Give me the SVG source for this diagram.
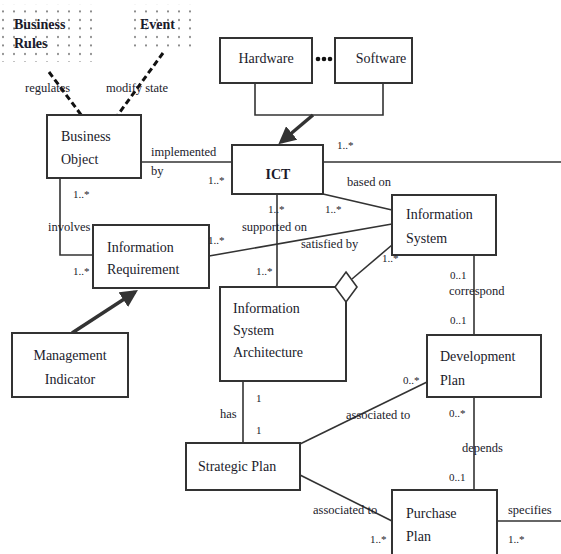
<svg xmlns="http://www.w3.org/2000/svg" width="561" height="554" viewBox="0 0 561 554" font-family="'Liberation Serif', 'Times New Roman', serif">
  <style>
    .box { fill: #fff; stroke: #333; stroke-width: 2; }
    text { font-family: "Liberation Serif", "Times New Roman", serif; fill: #1b1b2b; }
    .t { font-size: 14px; }
    .b { font-weight: bold; }
    .lbl { font-size: 12.5px; }
    .m { font-size: 11px; }
    .ln { fill: none; stroke: #333; stroke-width: 1.6; }
    .thick { fill: none; stroke: #333; stroke-width: 3.5; }
    .dash { fill: none; stroke: #111; stroke-width: 3; stroke-dasharray: 6 3.5; }
  </style>
  <defs>
    <pattern id="dots" width="11" height="8.5" patternUnits="userSpaceOnUse">
      <circle cx="3" cy="3" r="1" fill="#777"/>
    </pattern>
    <marker id="arrow" markerWidth="5" markerHeight="5" refX="4" refY="2.5" orient="auto" markerUnits="strokeWidth">
      <path d="M0,0 L5,2.5 L0,5 Z" fill="#333"/>
    </marker>
  </defs>

  <g id="connectors">
    <!-- stereotype dashed links -->
    <line class="dash" x1="49" y1="72" x2="82" y2="116"/>
    <line class="dash" x1="163" y1="53" x2="117" y2="116"/>
    <!-- hardware / software bracket into ICT -->
    <polyline class="ln" points="255,83 255,115 383,115 383,83"/>
    <line class="thick" x1="313" y1="115" x2="281" y2="142" marker-end="url(#arrow)"/>
    <!-- management indicator into information requirement -->
    <line class="thick" x1="72" y1="333" x2="135" y2="292" marker-end="url(#arrow)"/>
    <!-- business object - ICT -->
    <line class="ln" x1="141" y1="162" x2="232" y2="162"/>
    <!-- ICT to right edge -->
    <line class="ln" x1="323" y1="162" x2="561" y2="162"/>
    <!-- ICT - information system -->
    <line class="ln" x1="323" y1="194" x2="392" y2="210"/>
    <!-- information requirement - information system -->
    <line class="ln" x1="209" y1="256" x2="392" y2="224"/>
    <!-- ICT - ISA -->
    <line class="ln" x1="277" y1="194" x2="277" y2="287"/>
    <!-- aggregation ISA - IS -->
    <line class="ln" x1="352" y1="279" x2="392" y2="245"/>
    <!-- business object - information requirement -->
    <polyline class="ln" points="60,178 60,255 93,255"/>
    <!-- ISA - strategic plan -->
    <line class="ln" x1="243" y1="381" x2="243" y2="444"/>
    <!-- IS - development plan -->
    <line class="ln" x1="474" y1="255" x2="474" y2="335"/>
    <!-- strategic plan - development plan -->
    <line class="ln" x1="300" y1="444" x2="427" y2="382"/>
    <!-- development plan - purchase plan -->
    <line class="ln" x1="474" y1="397" x2="474" y2="490"/>
    <!-- strategic plan - purchase plan -->
    <line class="ln" x1="300" y1="475" x2="392" y2="521"/>
    <!-- purchase plan to right edge -->
    <line class="ln" x1="497" y1="521" x2="561" y2="521"/>
  </g>

  <g id="business-rules">
    <rect x="2" y="4" width="94" height="58" fill="url(#dots)"/>
    <text class="t b" x="14" y="29" font-size="13">Business</text>
    <text class="t b" x="14" y="48" font-size="13">Rules</text>
  </g>
  <g id="event">
    <rect x="128" y="4" width="68" height="48" fill="url(#dots)"/>
    <text class="t b" x="140" y="29" font-size="13">Event</text>
  </g>

  <g id="business-object">
    <rect class="box" x="47" y="115" width="94" height="63"/>
    <text class="t" x="61" y="141">Business</text>
    <text class="t" x="61" y="164">Object</text>
  </g>
  <g id="hardware">
    <rect class="box" x="220" y="38" width="92" height="45"/>
    <text class="t" x="266" y="63" text-anchor="middle" font-size="13">Hardware</text>
  </g>
  <g id="ellipsis">
    <circle cx="318" cy="59" r="2.3" fill="#111"/>
    <circle cx="324" cy="59" r="2.3" fill="#111"/>
    <circle cx="330" cy="59" r="2.3" fill="#111"/>
  </g>
  <g id="software">
    <rect class="box" x="335" y="38" width="77" height="45"/>
    <text class="t" x="381" y="63" text-anchor="middle" font-size="13">Software</text>
  </g>
  <g id="ict">
    <rect class="box" x="232" y="145" width="91" height="49"/>
    <text class="t b" x="278" y="179" text-anchor="middle" font-size="22">ICT</text>
  </g>
  <g id="information-system">
    <rect class="box" x="392" y="195" width="104" height="60"/>
    <text class="t" x="406" y="219">Information</text>
    <text class="t" x="406" y="243">System</text>
  </g>
  <g id="information-requirement">
    <rect class="box" x="93" y="225" width="116" height="63"/>
    <text class="t" x="107" y="252">Information</text>
    <text class="t" x="107" y="274">Requirement</text>
  </g>
  <g id="management-indicator">
    <rect class="box" x="12" y="333" width="116" height="64"/>
    <text class="t" x="70" y="360" text-anchor="middle">Management</text>
    <text class="t" x="70" y="384" text-anchor="middle">Indicator</text>
  </g>
  <g id="information-system-architecture">
    <rect class="box" x="220" y="287" width="126" height="94"/>
    <text class="t" x="233" y="313">Information</text>
    <text class="t" x="233" y="335">System</text>
    <text class="t" x="233" y="357">Architecture</text>
    <!-- aggregation diamond on the corner -->
    <polygon points="346,272 357,287 346,302 335,287" fill="#fff" stroke="#333" stroke-width="1.6"/>
  </g>
  <g id="strategic-plan">
    <rect class="box" x="186" y="443" width="114" height="47"/>
    <text class="t" x="198" y="471">Strategic Plan</text>
  </g>
  <g id="development-plan">
    <rect class="box" x="427" y="335" width="114" height="62"/>
    <text class="t" x="440" y="361">Development</text>
    <text class="t" x="440" y="385">Plan</text>
  </g>
  <g id="purchase-plan">
    <rect class="box" x="392" y="490" width="105" height="66"/>
    <text class="t" x="406" y="518">Purchase</text>
    <text class="t" x="406" y="541">Plan</text>
  </g>

  <g id="labels">
    <text class="lbl" x="25" y="92">regulates</text>
    <text class="lbl" x="106" y="92">modify state</text>
    <text class="lbl" x="151" y="156">implemented</text>
    <text class="lbl" x="151" y="175">by</text>
    <text class="m" x="208" y="184">1..*</text>
    <text class="m" x="337" y="149">1..*</text>
    <text class="lbl" x="347" y="186">based on</text>
    <text class="m" x="268" y="213">1..*</text>
    <text class="m" x="325" y="213">1..*</text>
    <text class="lbl" x="242" y="231">supported on</text>
    <text class="lbl" x="301" y="248">satisfied by</text>
    <text class="m" x="208" y="244">1..*</text>
    <text class="m" x="256" y="275">1..*</text>
    <text class="m" x="382" y="262">1..*</text>
    <text class="m" x="73" y="198">1..*</text>
    <text class="lbl" x="48" y="231">involves</text>
    <text class="m" x="73" y="275">1..*</text>
    <text class="m" x="450" y="279">0..1</text>
    <text class="lbl" x="449" y="295">correspond</text>
    <text class="m" x="450" y="324">0..1</text>
    <text class="lbl" x="220" y="418">has</text>
    <text class="m" x="256" y="402">1</text>
    <text class="m" x="256" y="434">1</text>
    <text class="lbl" x="346" y="419">associated to</text>
    <text class="m" x="403" y="384">0..*</text>
    <text class="m" x="449" y="417">0..*</text>
    <text class="lbl" x="462" y="452">depends</text>
    <text class="m" x="449" y="481">0..1</text>
    <text class="lbl" x="313" y="514">associated to</text>
    <text class="m" x="370" y="543">1..*</text>
    <text class="lbl" x="508" y="514">specifies</text>
    <text class="m" x="508" y="543">1..*</text>
  </g>
</svg>
